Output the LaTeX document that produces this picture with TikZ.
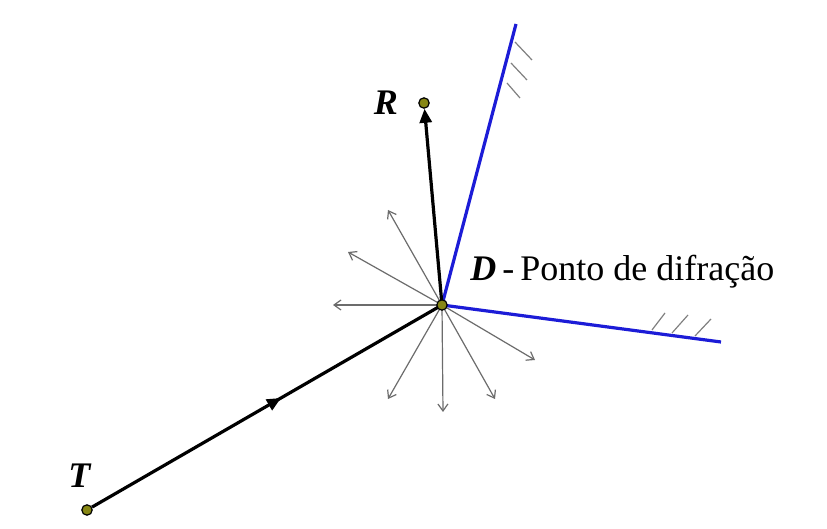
\documentclass[tikz,border=0pt]{standalone}
\usepackage{fontspec}
\setmainfont{Liberation Serif}
\usetikzlibrary{arrows.meta,decorations.markings}
\definecolor{wallblue}{RGB}{28,28,215}
\definecolor{dotfill}{RGB}{135,135,20}
\tikzset{
  dot/.style={circle,draw=black,fill=dotfill,line width=0.6pt,inner sep=0pt,minimum size=5.2pt},
  ray/.style={black,line width=1.6pt},
  wall/.style={wallblue,line width=1.6pt},
  hatch/.style={gray,line width=0.6pt},
  diff/.style={gray!85!black,line width=0.6pt,-{Straight Barb[length=3.5pt,width=5pt]}},
  lbl/.style={font=\fontsize{18}{22}\selectfont}
}
\begin{document}
\begin{tikzpicture}[x=0.5pt,y=-0.5pt]
\useasboundingbox (0,0) rectangle (827,529);
\fill[white] (0,0) rectangle (827,529);
% walls
\coordinate (W1) at (516,24);
\coordinate (W2) at (721,342);
\coordinate (Dc) at (442,305);
\draw[wall] (W1) -- (Dc) -- (W2);
% hatches
\foreach \a/\b in {{515,42}/{532,60},{511,63}/{527,80},{507,83}/{520,98}}{
  \draw[hatch] (\a) -- (\b);}
\foreach \a/\b in {{652,330}/{665,313},{672,333}/{688,315},{695,336}/{711,319}}{
  \draw[hatch] (\a) -- (\b);}
% diffracted rays
\foreach \n/\p in {a/{388,210},b/{348,252},c/{333,305},d/{535,360},e/{495,399},f/{443,412},g/{388,399}}{
  \coordinate (E\n) at (\p);
  \draw[diff] (Dc) -- (E\n);}
% nodes
\node[dot] (T) at (87,510) {};
\node[dot] (R) at (424,103) {};
% incident ray
\draw[ray,postaction={decorate},decoration={markings,mark=at position 0.54 with {\arrow{Triangle[length=7pt,width=6pt]}}}] (T) -- (Dc);
% reflected ray
\draw[ray,-{Triangle[length=7pt,width=6pt]}] (Dc) -- (R);
\node[dot] (D) at (Dc) {};
% labels
\node[lbl] (Rl) at (386,103) {\textbf{\textit{R}}};
\node[lbl] (Tl) at (80,476) {\textbf{\textit{T}}};
\node[lbl,anchor=west,inner sep=0pt] (Dl) at (470,272) {\textbf{\textit{D}}\,-\,Ponto de difração};
\end{tikzpicture}
\end{document}
